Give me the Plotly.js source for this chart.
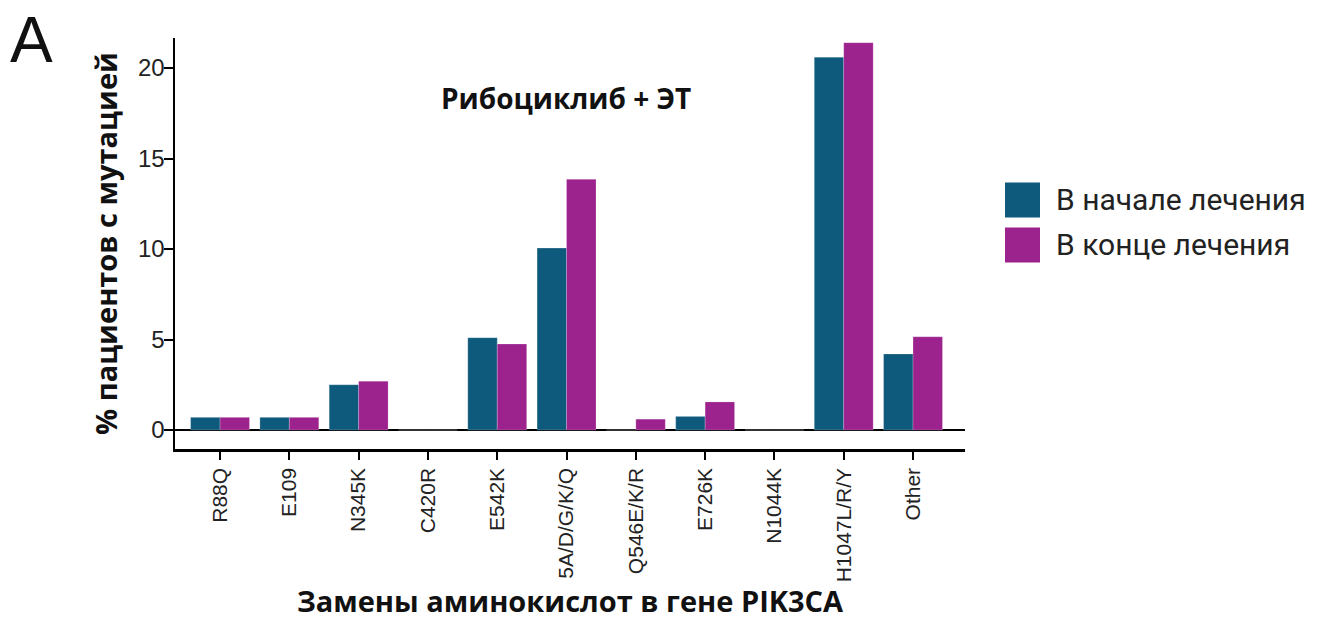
<!DOCTYPE html>
<html>
<head>
<meta charset="utf-8">
<script src="https://cdn.plot.ly/plotly-3.0.1.min.js"></script>
<style>html,body{margin:0;padding:0;background:#fff;}#chart{width:1326px;height:620px;}</style>
</head>
<body>
<div id="chart"></div>
<script>
const categories = ["R88Q","E109","N345K","C420R","E542K","5A/D/G/K/Q","Q546E/K/R","E726K","N1044K","H1047L/R/Y","Other"];
const seriesNames = ["В начале лечения","В конце лечения"];
const startValues = [0.7, 0.7, 2.5, 0, 5.1, 10.05, 0, 0.75, 0, 20.6, 4.2];
const endValues   = [0.7, 0.7, 2.7, 0, 4.75, 13.85, 0.6, 1.55, 0, 21.4, 5.15];
const yTicks = [0, 5, 10, 15, 20];
const chartTitle = "Рибоциклиб + ЭТ";
const xTitle = "Замены аминокислот в гене PIK3CA";
const yTitle = "% пациентов с мутацией";
const panelLabel = "A";

const colors = ["#0e5a7c", "#9c228e"];
const boldFont = "'Open Sans', Roboto, sans-serif";
const tickFont = "Liberation Sans, Arial, sans-serif";

const traces = [
  {type:"bar", x:categories, y:startValues, name:seriesNames[0], marker:{color:colors[0], line:{color:"rgba(255,255,255,0.35)", width:0.6}}, showlegend:false},
  {type:"bar", x:categories, y:endValues, name:seriesNames[1], marker:{color:colors[1], line:{color:"rgba(255,255,255,0.35)", width:0.6}}, showlegend:false}
];

const L = 175, R = 965, T = 38, B = 449;
const pw = R - L, ph = B - T;
const px = v => (v - L) / pw;
const py = v => (B - v) / ph;

const shapes = [];
const annotations = [
  {text:chartTitle, xref:"paper", yref:"paper", x:px(566), y:py(98), showarrow:false, xanchor:"center", yanchor:"middle",
   font:{family:boldFont, size:28, weight:700, color:"#111"}},
  {text:panelLabel, xref:"paper", yref:"paper", x:px(31), y:py(40), showarrow:false, xanchor:"center", yanchor:"middle",
   font:{family:"Liberation Sans, Arial, sans-serif", size:64, color:"#111"}}
];
const legendRows = [200, 245];
seriesNames.forEach((n, i) => {
  const cy = legendRows[i];
  shapes.push({type:"rect", xref:"paper", yref:"paper", x0:px(1005), x1:px(1040), y0:py(cy+17.5), y1:py(cy-17.5),
    fillcolor:colors[i], line:{width:0}});
  annotations.push({text:n, xref:"paper", yref:"paper", x:px(1054), y:py(cy), xanchor:"left", yanchor:"middle", showarrow:false,
    font:{family:"Roboto, sans-serif", size:30, color:"#222"}});
});

const layout = {
  width:1326, height:620,
  margin:{l:L, r:1326-R, t:T, b:620-B},
  paper_bgcolor:"#fff", plot_bgcolor:"#fff",
  barmode:"group", bargap:0.15, bargroupgap:0,
  showlegend:false,
  xaxis:{
    type:"category", categoryarray:categories, range:[-0.65, 10.75],
    showline:true, linecolor:"#000", linewidth:2.5,
    ticks:"outside", ticklen:8, tickwidth:2, tickcolor:"#000",
    tickangle:-90, tickfont:{family:tickFont, size:21, color:"#222"},
    showgrid:false, zeroline:false, automargin:false,
    title:{text:xTitle, font:{family:boldFont, size:29, weight:700, color:"#111"}, standoff:8}
  },
  yaxis:{
    range:[-1.05, 21.66], tickvals:yTicks, ticktext:yTicks.map(String),
    showline:true, linecolor:"#000", linewidth:2.5,
    ticks:"outside", ticklen:9, tickwidth:2, tickcolor:"#000",
    tickfont:{family:tickFont, size:24, color:"#222"}, ticklabelstandoff:-6,
    showgrid:false, zeroline:true, zerolinecolor:"#000", zerolinewidth:2.5, automargin:false,
    title:{text:yTitle, font:{family:boldFont, size:29, weight:700, color:"#111"}, standoff:12}
  },
  shapes:shapes,
  annotations:annotations
};

Plotly.newPlot("chart", traces, layout, {displayModeBar:false, staticPlot:true});
</script>
</body>
</html>
